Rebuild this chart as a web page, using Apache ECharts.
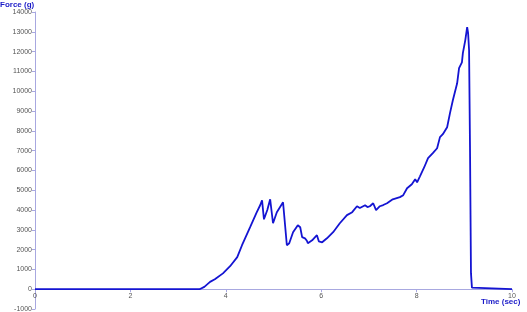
<!DOCTYPE html>
<html>
<head>
<meta charset="utf-8">
<script src="https://cdn.jsdelivr.net/npm/echarts@6/dist/echarts.min.js"></script>
<style>html,body{margin:0;padding:0;background:#fff}#c{width:527px;height:312px}</style>
</head>
<body>
<div id="c"></div>
<script>
var timeSec = [0, 3.45, 3.55, 3.67, 3.77, 3.94, 4.09, 4.24, 4.34, 4.51, 4.65, 4.72, 4.76, 4.77, 4.80, 4.87, 4.93, 4.99, 5.07, 5.20, 5.22, 5.28, 5.33, 5.41, 5.51, 5.56, 5.60, 5.63, 5.66, 5.70, 5.72, 5.81, 5.91, 5.95, 6.02, 6.12, 6.25, 6.39, 6.54, 6.65, 6.75, 6.81, 6.92, 6.97, 7.02, 7.09, 7.15, 7.23, 7.30, 7.38, 7.50, 7.65, 7.72, 7.80, 7.90, 7.97, 8.01, 8.07, 8.16, 8.24, 8.34, 8.43, 8.49, 8.55, 8.64, 8.70, 8.76, 8.85, 8.89, 8.95, 8.97, 9.02, 9.06, 9.08, 9.10, 9.12, 9.14, 9.16, 9.17, 10];
var forceG = [0, 0, 120, 370, 500, 800, 1160, 1620, 2220, 3130, 3890, 4240, 4490, 4540, 3530, 4000, 4540, 3330, 3890, 4390, 4440, 2220, 2320, 2880, 3230, 3130, 2630, 2700, 2570, 2450, 2320, 2470, 2730, 2420, 2370, 2570, 2880, 3330, 3740, 3890, 4190, 4100, 4240, 4150, 4190, 4340, 3990, 4190, 4250, 4340, 4540, 4650, 4750, 5100, 5300, 5550, 5400, 5700, 6160, 6620, 6870, 7120, 7680, 7830, 8180, 8890, 9540, 10400, 11160, 11460, 11920, 12570, 13230, 12930, 12070, 7020, 810, 80, 0, 0];
var xTicks = {min: 0, max: 10, interval: 2};
var yTicks = {min: -1000, max: 14000, interval: 1000};

var data = timeSec.map(function (t, i) { return [t, forceG[i]]; });
var axisCol = '#a8a8e0';
var lblStyle = {color: '#555', fontSize: 7, fontFamily: 'Liberation Sans, Arial, sans-serif', formatter: function (v) { return String(v); }};
var chart = echarts.init(document.getElementById('c'), null, {renderer: 'canvas'});
chart.setOption({
  animation: false,
  grid: {left: 35, right: 15, top: 12, bottom: 3, containLabel: false, outerBoundsMode: 'none'},
  xAxis: {
    type: 'value', min: xTicks.min, max: xTicks.max, interval: xTicks.interval,
    axisLine: {onZero: true, lineStyle: {color: axisCol, width: 1}},
    axisTick: {show: true, length: 3, lineStyle: {color: axisCol}},
    axisLabel: Object.assign({margin: -16, hideOverlap: false, showMinLabel: true, showMaxLabel: true}, lblStyle),
    splitLine: {show: false}
  },
  yAxis: {
    type: 'value', min: yTicks.min, max: yTicks.max, interval: yTicks.interval,
    axisLine: {show: true, lineStyle: {color: axisCol, width: 1}},
    axisTick: {show: true, length: 3, lineStyle: {color: axisCol}},
    axisLabel: Object.assign({margin: 3}, lblStyle),
    splitLine: {show: false}
  },
  graphic: [
    {type: 'text', left: 0, top: 1, style: {text: 'Force (g)', fill: '#1a1ac8', font: 'bold 8px Liberation Sans, Arial, sans-serif'}},
    {type: 'text', left: 481, top: 298, style: {text: 'Time (sec)', fill: '#1a1ac8', font: 'bold 8px Liberation Sans, Arial, sans-serif'}}
  ],
  series: [{
    type: 'line', data: data, showSymbol: false, symbol: 'none',
    lineStyle: {color: '#1414d2', width: 1.8}
  }]
});
</script>
</body>
</html>
